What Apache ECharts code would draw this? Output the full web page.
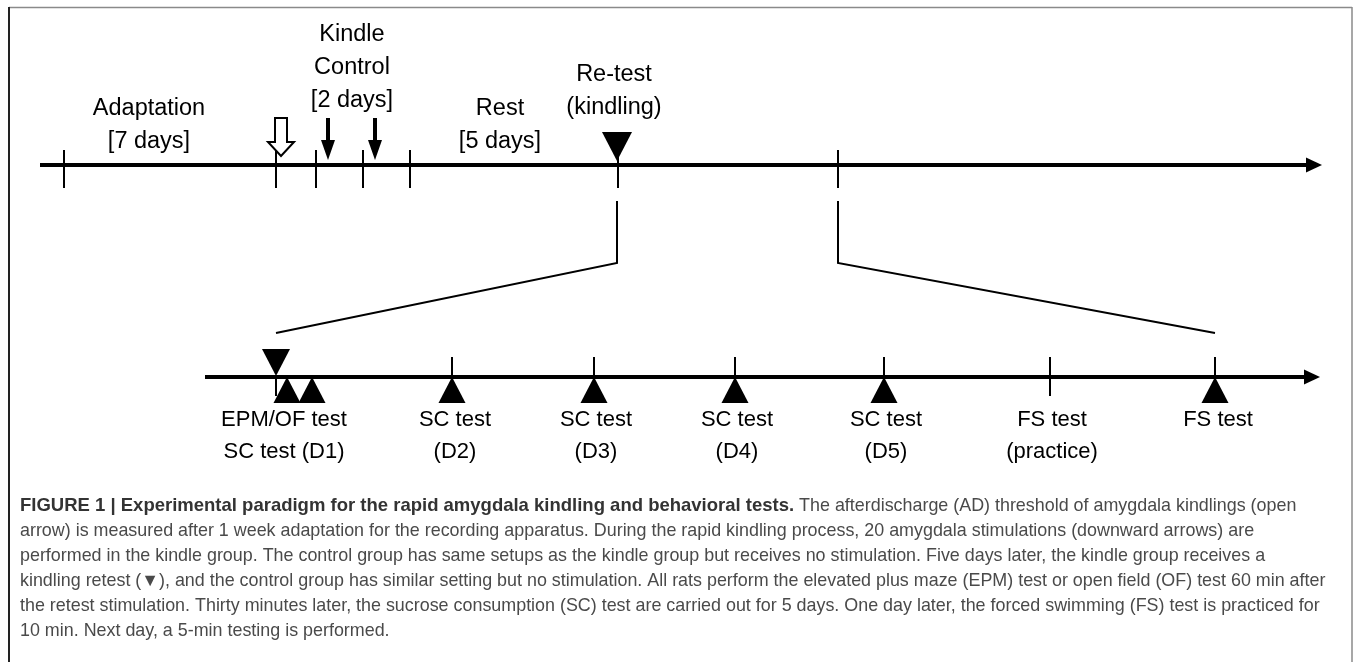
<!DOCTYPE html>
<html><head><meta charset="utf-8">
<script src="https://cdn.jsdelivr.net/npm/echarts@6.0.0/dist/echarts.min.js"></script>
<style>html,body{margin:0;padding:0;background:#fff}#c{width:1355px;height:662px}</style>
</head><body><div id="c"></div>
<script>
// ---- data (timeline positions in axis units) ----
const topTicks = [64, 276, 316, 363, 410, 618, 838];
const bottomTicks = [276, 452, 594, 735, 884, 1050, 1215];
const adThresholdArrows = [281];
const stimulationArrows = [328, 375];
const topRetest = [617];
const bottomRetest = [276];
const testMarks = [287, 312, 452, 594, 735, 884, 1215];
const zoomFrom = [617, 838];
const zoomTo = [276, 1215];
const topLabels = ['Adaptation\n[7 days]', 'Kindle\nControl\n[2 days]', 'Rest\n[5 days]', 'Re-test\n(kindling)'];
const topLabelX = [149, 352, 500, 614];
const topLabelLastY = [142, 101, 142, 108];
const bottomLabels = ['EPM/OF test\nSC test (D1)', 'SC test\n(D2)', 'SC test\n(D3)', 'SC test\n(D4)', 'SC test\n(D5)', 'FS test\n(practice)', 'FS test'];
const bottomLabelX = [284, 455, 596, 737, 886, 1052, 1218];
const captionTitle = 'FIGURE 1 | Experimental paradigm for the rapid amygdala kindling and behavioral tests.';
const captionLines = [
  ' The afterdischarge (AD) threshold of amygdala kindlings (open',
  'arrow) is measured after 1 week adaptation for the recording apparatus. During the rapid kindling process, 20 amygdala stimulations (downward arrows) are',
  'performed in the kindle group. The control group has same setups as the kindle group but receives no stimulation. Five days later, the kindle group receives a',
  'kindling retest (\u25BC), and the control group has similar setting but no stimulation. All rats perform the elevated plus maze (EPM) test or open field (OF) test 60 min after',
  'the retest stimulation. Thirty minutes later, the sucrose consumption (SC) test are carried out for 5 days. One day later, the forced swimming (FS) test is practiced for',
  '10 min. Next day, a 5-min testing is performed.'
];

// ---- layout / style ----
const ROW_TOP = 165, ROW_BOT = 377;
const FONT = '"Liberation Sans", Arial, sans-serif';
const BLACK = '#000';
const CAP_SIZE = 17.9, CAP_BOLD_SIZE = 18.5;

const chart = echarts.init(document.getElementById('c'), null, {renderer: 'canvas'});

function ln(a, b, w) {
  return {type: 'line', shape: {x1: a[0], y1: a[1], x2: b[0], y2: b[1]}, style: {stroke: BLACK, lineWidth: w}};
}

const timelineData = [[40, 1322, ROW_TOP], [205, 1320, ROW_BOT]];
const tickData = topTicks.map(x => [x, 150, 188]).concat(
  bottomTicks.map(x => bottomRetest.includes(x) ? [x, ROW_BOT, 396]
    : testMarks.includes(x) ? [x, 357, ROW_BOT] : [x, 357, 396]));
const connectorData = zoomFrom.map((x, i) => [x, zoomTo[i]]);
const triangleData = topRetest.map(x => [x, 0]).concat(bottomRetest.map(x => [x, 1]), testMarks.map(x => [x, 2]));
const arrowData = adThresholdArrows.map(x => [x, 1]).concat(stimulationArrows.map(x => [x, 0]));
const topLabelData = topLabels.map((t, i) => [topLabelX[i], topLabelLastY[i]]);
const bottomLabelData = bottomLabels.map((t, i) => [bottomLabelX[i], 420]);

const base = {type: 'custom', coordinateSystem: 'cartesian2d', clip: false, silent: true};

const option = {
  animation: false,
  backgroundColor: '#fff',
  grid: {left: 0, right: 0, top: 0, bottom: 0},
  xAxis: {type: 'value', min: 0, max: 1355, show: false},
  yAxis: {type: 'value', min: 0, max: 662, inverse: true, show: false},
  graphic: [
    {type: 'line', shape: {x1: 9, y1: 7.5, x2: 1352, y2: 7.5}, style: {stroke: '#8a8a8a', lineWidth: 1.5}},
    {type: 'line', shape: {x1: 9, y1: 7, x2: 9, y2: 662}, style: {stroke: '#222', lineWidth: 2}},
    {type: 'line', shape: {x1: 1352, y1: 7, x2: 1352, y2: 662}, style: {stroke: '#8a8a8a', lineWidth: 1.5}},
    {
      type: 'text', x: 20, y: 506,
      style: {
        text: '{b|' + captionTitle + '}{r|' + captionLines[0] + '}',
        verticalAlign: 'middle',
        rich: {
          b: {fontFamily: FONT, fontSize: CAP_BOLD_SIZE, fontWeight: 'bold', fill: '#333'},
          r: {fontFamily: FONT, fontSize: CAP_SIZE, fill: '#4a4a4a'}
        }
      }
    }
  ].concat(captionLines.slice(1).map((t, i) => ({
    type: 'text', x: 20, y: 531 + i * 25,
    style: {text: t, fontFamily: FONT, fontSize: CAP_SIZE, fill: '#4a4a4a', verticalAlign: 'middle'}
  }))),
  series: [
    Object.assign({}, base, {
      name: 'timelines', data: timelineData,
      renderItem: (p, api) => {
        const a = api.coord([api.value(0), api.value(2)]);
        const b = api.coord([api.value(1), api.value(2)]);
        return {type: 'group', children: [
          ln(a, [b[0] - 10, b[1]], 4),
          {type: 'polygon', shape: {points: [[b[0], b[1]], [b[0] - 16, b[1] - 7.5], [b[0] - 16, b[1] + 7.5]]}, style: {fill: BLACK}}
        ]};
      }
    }),
    Object.assign({}, base, {
      name: 'ticks', data: tickData,
      renderItem: (p, api) => ln(api.coord([api.value(0), api.value(1)]), api.coord([api.value(0), api.value(2)]), 2)
    }),
    Object.assign({}, base, {
      name: 'connectors', data: connectorData,
      renderItem: (p, api) => {
        const x0 = api.value(0), x1 = api.value(1);
        return {type: 'polyline', shape: {points: [api.coord([x0, 201]), api.coord([x0, 263]), api.coord([x1, 333])]},
          style: {stroke: BLACK, lineWidth: 2, fill: null}};
      }
    }),
    Object.assign({}, base, {
      name: 'triangles', data: triangleData,
      renderItem: (p, api) => {
        const kind = api.value(1);
        let pts;
        if (kind === 0) {
          const t = api.coord([api.value(0), 161]);
          pts = [[t[0] - 15, t[1] - 29], [t[0] + 15, t[1] - 29], t];
        } else if (kind === 1) {
          const t = api.coord([api.value(0), 376]);
          pts = [[t[0] - 14, t[1] - 27], [t[0] + 14, t[1] - 27], t];
        } else {
          const t = api.coord([api.value(0), 377]);
          pts = [t, [t[0] - 13.5, t[1] + 26], [t[0] + 13.5, t[1] + 26]];
        }
        return {type: 'polygon', shape: {points: pts}, style: {fill: BLACK}};
      }
    }),
    Object.assign({}, base, {
      name: 'arrows', data: arrowData,
      renderItem: (p, api) => {
        const open = api.value(1) === 1;
        const top = api.coord([api.value(0), 118]);
        const x = top[0], y = top[1];
        if (open) {
          const pts = [[x - 6, y], [x + 6, y], [x + 6, y + 24], [x + 13, y + 24], [x, y + 38], [x - 13, y + 24], [x - 6, y + 24]];
          return {type: 'polygon', shape: {points: pts}, style: {fill: '#fff', stroke: BLACK, lineWidth: 2}};
        }
        return {type: 'group', children: [
          ln([x, y], [x, y + 24], 4),
          {type: 'polygon', shape: {points: [[x - 7, y + 22], [x + 7, y + 22], [x, y + 42]]}, style: {fill: BLACK}}
        ]};
      }
    }),
    Object.assign({}, base, {
      name: 'topLabels', data: topLabelData,
      renderItem: (p, api) => {
        const c = api.coord([api.value(0), api.value(1)]);
        return {type: 'text', x: c[0], y: c[1] + 16.5, style: {
          text: topLabels[p.dataIndex], fontFamily: FONT, fontSize: 23.5, fill: BLACK,
          align: 'center', verticalAlign: 'bottom', lineHeight: 33}};
      }
    }),
    Object.assign({}, base, {
      name: 'bottomLabels', data: bottomLabelData,
      renderItem: (p, api) => {
        const c = api.coord([api.value(0), api.value(1)]);
        return {type: 'text', x: c[0], y: c[1] - 16, style: {
          text: bottomLabels[p.dataIndex], fontFamily: FONT, fontSize: 22, fill: BLACK,
          align: 'center', verticalAlign: 'top', lineHeight: 32}};
      }
    })
  ]
};
chart.setOption(option);
</script>
</body></html>
